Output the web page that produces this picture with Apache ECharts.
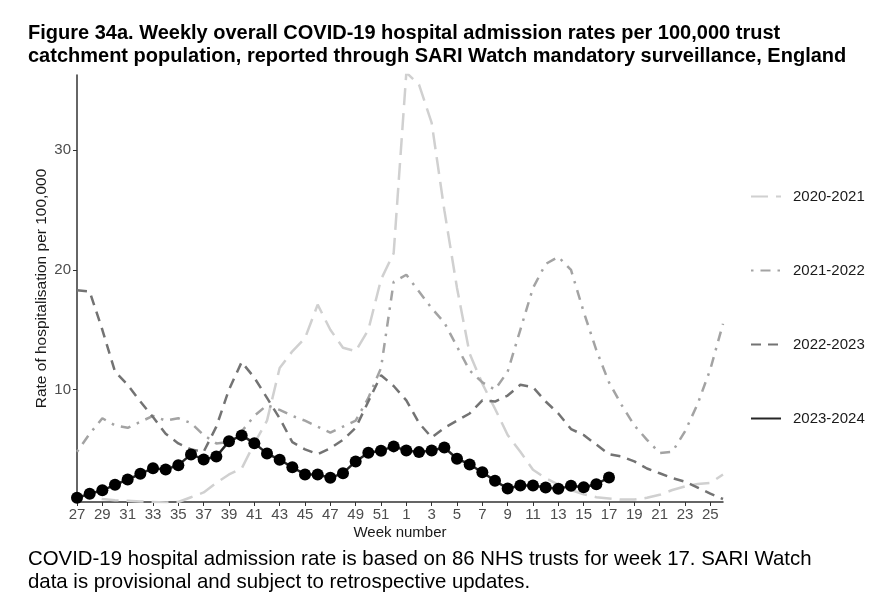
<!DOCTYPE html>
<html>
<head>
<meta charset="utf-8">
<script src="https://cdn.jsdelivr.net/npm/echarts@6/dist/echarts.min.js"></script>
<style>
  html, body { margin: 0; padding: 0; background: #fff; }
  #chart { width: 879px; height: 605px; }
</style>
</head>
<body>
<div id="chart"></div>
<script>
// week numbers, season runs week 27 to week 26
const weeks = ['27','28','29','30','31','32','33','34','35','36','37','38','39','40','41','42','43','44','45','46','47','48','49','50','51','52',
  '1','2','3','4','5','6','7','8','9','10','11','12','13','14','15','16','17','18','19','20','21','22','23','24','25','26'];

const seasons = ['2020-2021', '2021-2022', '2022-2023', '2023-2024'];

// rates per 100,000
const rate2020 = [1.2, 1.0, 0.85, 0.75, 0.7, 0.65, 0.6, 0.55, 0.6, 1.0,
  1.4, 2.2, 2.9, 3.4, 5.5, 7.4, 11.8, 13.2, 14.3, 17.1,
  15.0, 13.5, 13.2, 15.0, 19.2, 21.4, 36.5, 35.5, 32.3, 25.0,
  18.5, 13.0, 10.5, 8.4, 6.2, 4.8, 3.3, 2.6, 2.05, 1.6,
  1.25, 1.0, 0.9, 0.8, 0.8, 0.95, 1.2, 1.6, 1.9, 2.1,
  2.2, 2.9];

const rate2021 = [4.8, 6.3, 7.6, 7.0, 6.8, 7.3, 7.8, 7.4, 7.6, 7.2,
  6.2, 5.5, 5.6, 6.5, 7.8, 8.7, 8.3, 7.8, 7.4, 6.9,
  6.4, 6.9, 7.4, 9.3, 11.8, 19.0, 19.6, 18.2, 16.8, 15.6,
  13.6, 11.6, 10.6, 10.0, 11.5, 15.0, 18.5, 20.5, 21.1, 20.0,
  16.5, 13.3, 10.6, 8.7, 7.0, 5.8, 4.7, 4.8, 6.5, 8.8,
  11.7, 15.5];

const rate2022 = [18.3, 18.2, 15.0, 11.5, 10.4, 9.0, 7.7, 6.3, 5.5, 5.0,
  4.8, 6.9, 10.0, 12.3, 11.0, 9.3, 7.6, 5.6, 5.0, 4.6,
  5.1, 5.8, 6.8, 9.0, 11.2, 10.3, 9.1, 7.2, 6.0, 6.8,
  7.4, 8.0, 9.1, 9.0, 9.5, 10.4, 10.2, 9.0, 8.0, 6.7,
  6.2, 5.4, 4.6, 4.4, 4.0, 3.4, 3.0, 2.6, 2.3, 1.8,
  1.3, 0.85];

const rate2023 = [0.95, 1.28, 1.58, 2.04, 2.48, 2.96, 3.43, 3.32, 3.68, 4.58,
  4.16, 4.41, 5.67, 6.17, 5.52, 4.66, 4.13, 3.51, 2.9, 2.9,
  2.62, 3.01, 3.99, 4.72, 4.89, 5.25, 4.91, 4.77, 4.91, 5.16,
  4.22, 3.74, 3.09, 2.37, 1.73, 1.98, 1.98, 1.81, 1.70, 1.95,
  1.84, 2.09, 2.65];

const yTicks = [10, 20, 30];

const font = '"Liberation Sans", Arial, sans-serif';

const chart = echarts.init(document.getElementById('chart'), null, { renderer: 'canvas' });

const option = {
  backgroundColor: '#fff',
  animation: false,
  textStyle: { fontFamily: font },
  title: [
    {
      text: 'Figure 34a. Weekly overall COVID-19 hospital admission rates per 100,000 trust\ncatchment population, reported through SARI Watch mandatory surveillance, England',
      left: 28, top: 22, padding: 0,
      textStyle: { fontFamily: font, fontSize: 20, fontWeight: 'bold', color: '#000', lineHeight: 23 }
    },
    {
      text: 'COVID-19 hospital admission rate is based on 86 NHS trusts for week 17. SARI Watch\ndata is provisional and subject to retrospective updates.',
      left: 28, top: 548, padding: 0,
      textStyle: { fontFamily: font, fontSize: 20.4, fontWeight: 'normal', color: '#000', lineHeight: 23 }
    }
  ],
  legend: {
    orient: 'vertical',
    left: 750, top: 189, padding: 0,
    itemWidth: 30, itemHeight: 14, itemGap: 59,
    itemStyle: { opacity: 0 },
    textStyle: { fontFamily: font, fontSize: 15, color: '#1a1a1a', padding: [0, 0, 0, 7] },
    data: seasons
  },
  grid: { left: 77, right: 156, top: 75, bottom: 103 },
  xAxis: {
    type: 'category',
    data: weeks,
    boundaryGap: false,
    name: 'Week number',
    nameLocation: 'middle',
    nameGap: 23,
    nameMoveOverlap: false,
    nameTextStyle: { fontFamily: font, fontSize: 15, color: '#1a1a1a' },
    axisLine: { lineStyle: { color: '#333', width: 1.5 } },
    axisTick: { interval: 1, length: 4, lineStyle: { color: '#333' } },
    axisLabel: { interval: 1, fontSize: 15, color: '#4d4d4d', margin: 5 },
    splitLine: { show: false }
  },
  yAxis: {
    type: 'value',
    min: 0.6, max: 36.3,
    name: 'Rate of hospitalisation per 100,000',
    nameLocation: 'middle',
    nameGap: 27,
    nameMoveOverlap: false,
    nameTextStyle: { fontFamily: font, fontSize: 15.5, color: '#1a1a1a' },
    axisLine: { show: true, lineStyle: { color: '#333', width: 1.5 } },
    axisTick: { show: true, length: 4, customValues: yTicks, lineStyle: { color: '#333' } },
    axisLabel: { customValues: yTicks, fontSize: 15, color: '#4d4d4d', margin: 6 },
    splitLine: { show: false }
  },
  series: [
    {
      name: seasons[0], type: 'line', data: rate2020, symbol: 'none',
      lineStyle: { color: '#d0d0d0', width: 2.5, type: [17, 8] },
      itemStyle: { color: '#d0d0d0' }
    },
    {
      name: seasons[1], type: 'line', data: rate2021, symbol: 'none',
      lineStyle: { color: '#a3a3a3', width: 2.5, type: [2.5, 7, 10, 7] },
      itemStyle: { color: '#a3a3a3' }
    },
    {
      name: seasons[2], type: 'line', data: rate2022, symbol: 'none',
      lineStyle: { color: '#737373', width: 2.5, type: [10, 7] },
      itemStyle: { color: '#737373' }
    },
    {
      name: seasons[3], type: 'line', data: rate2023,
      symbol: 'circle', symbolSize: 12, showAllSymbol: true,
      lineStyle: { color: '#262626', width: 2.5 },
      itemStyle: { color: '#000' },
      z: 5
    }
  ]
};

chart.setOption(option);
</script>
</body>
</html>
